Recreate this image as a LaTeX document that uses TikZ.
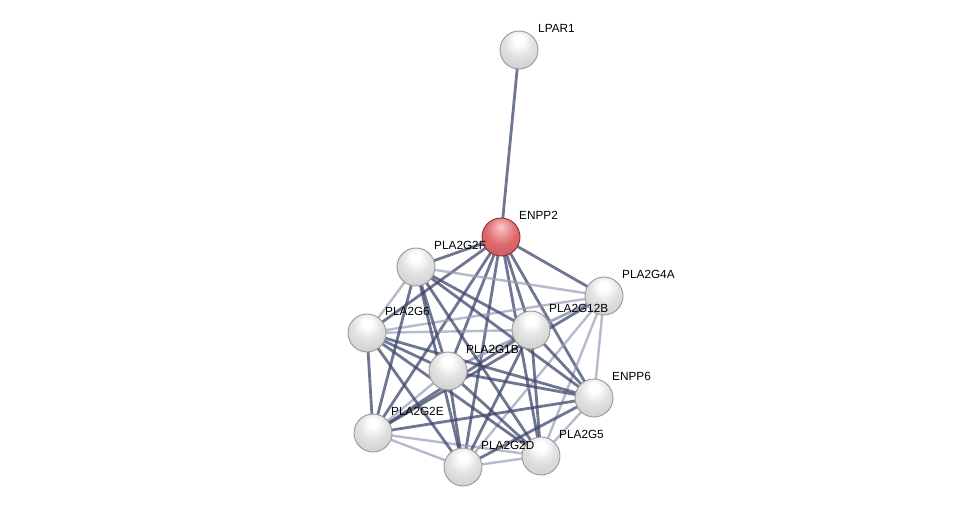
\documentclass[tikz,border=0pt]{standalone}
\usepackage{fontspec}
\setmainfont{Liberation Sans}
\definecolor{edgeS}{RGB}{62,72,108}
\definecolor{edgeW}{RGB}{150,156,184}
\definecolor{redA}{RGB}{240,170,170}
\definecolor{redB}{RGB}{222,105,108}
\definecolor{redC}{RGB}{175,62,66}
\pgfdeclareradialshading{grayball}{\pgfpoint{0bp}{14bp}}{color(0bp)=(white); color(6bp)=(white); color(18bp)=(gray!22); color(34bp)=(gray!38); color(50bp)=(gray!55); color(66bp)=(gray!62)}
\pgfdeclareradialshading{redball}{\pgfpoint{0bp}{14bp}}{color(0bp)=(redA!60!white); color(6bp)=(redA); color(20bp)=(redB); color(40bp)=(redB!85!black); color(66bp)=(redC)}
\begin{document}
\begin{tikzpicture}[x=1pt,y=-1pt,
  prot/.style={circle,minimum size=38pt,inner sep=0pt,draw=gray!80,line width=0.9pt,
    shading=grayball},
  seed/.style={prot,draw=redC!80!black,shading=redball},
  lab/.style={font=\fontsize{11.8}{14}\selectfont,anchor=west,inner sep=0pt},
  strong/.style={draw=edgeS,draw opacity=0.75,line width=2.8pt},
  weak/.style={draw=edgeW,draw opacity=0.7,line width=2.4pt}]
\useasboundingbox (0,0) rectangle (975,513);
\coordinate (pLPAR1) at (519,50);
\coordinate (pENPP2) at (501,237);
\coordinate (pG2F) at (416,267);
\coordinate (pG4A) at (604,296);
\coordinate (pG12B) at (531,330);
\coordinate (pG6) at (367,333);
\coordinate (pG1B) at (448,371);
\coordinate (pENPP6) at (594,398);
\coordinate (pG2E) at (373,433);
\coordinate (pG5) at (541,456);
\coordinate (pG2D) at (463,467);
% edges
\draw[strong] (pLPAR1) -- (pENPP2);
\foreach \b in {pG2F,pG4A,pG12B,pG6,pG1B,pENPP6,pG2E,pG5,pG2D} \draw[strong] (pENPP2) -- (\b);
\foreach \a/\b in {pG2F/pG6,pG2F/pG4A,pG1B/pG12B,pG4A/pENPP6,pG4A/pG12B,pG2D/pG5,pG5/pENPP6,pG2E/pG5,pG1B/pG2E,pG6/pG12B,pG4A/pG5,pG4A/pG2D,pG2E/pG2D,pG6/pG4A,pG4A/pG1B}
  \draw[weak] (\a) -- (\b);
\foreach \a/\b in {pG2F/pG1B,pG2F/pG2D,pG2F/pG5,pG2F/pENPP6,pG2F/pG12B,pG2F/pG2E,
  pG6/pG1B,pG6/pENPP6,pG6/pG2D,pG6/pG2E,pG6/pG5,
  pG1B/pENPP6,pG1B/pG5,pG1B/pG2D,
  pG2E/pENPP6,pG2E/pG12B,pG12B/pG2D,pG12B/pG5,pG12B/pENPP6,pG2D/pENPP6,pG4A/pG2E}
  \draw[strong] (\a) -- (\b);
% nodes
\node[prot] (LPAR1) at (pLPAR1) {};
\node[seed] (ENPP2) at (pENPP2) {};
\node[prot] (G2F) at (pG2F) {};
\node[prot] (G4A) at (pG4A) {};
\node[prot] (G12B) at (pG12B) {};
\node[prot] (G6) at (pG6) {};
\node[prot] (G1B) at (pG1B) {};
\node[prot] (ENPP6) at (pENPP6) {};
\node[prot] (G2E) at (pG2E) {};
\node[prot] (G5) at (pG5) {};
\node[prot] (G2D) at (pG2D) {};
% labels
\node[lab] (lLPAR1) at ([shift={(19,-22)}]pLPAR1) {LPAR1};
\node[lab] (lENPP2) at ([shift={(18,-22)}]pENPP2) {ENPP2};
\node[lab] (lG2F) at ([shift={(18,-22)}]pG2F) {PLA2G2F};
\node[lab] (lG4A) at ([shift={(18,-22)}]pG4A) {PLA2G4A};
\node[lab] (lG12B) at ([shift={(18,-22)}]pG12B) {PLA2G12B};
\node[lab] (lG6) at ([shift={(18,-22)}]pG6) {PLA2G6};
\node[lab] (lG1B) at ([shift={(18,-22)}]pG1B) {PLA2G1B};
\node[lab] (lENPP6) at ([shift={(18,-22)}]pENPP6) {ENPP6};
\node[lab] (lG2E) at ([shift={(18,-22)}]pG2E) {PLA2G2E};
\node[lab] (lG5) at ([shift={(18,-22)}]pG5) {PLA2G5};
\node[lab] (lG2D) at ([shift={(18,-22)}]pG2D) {PLA2G2D};
\end{tikzpicture}
\end{document}
